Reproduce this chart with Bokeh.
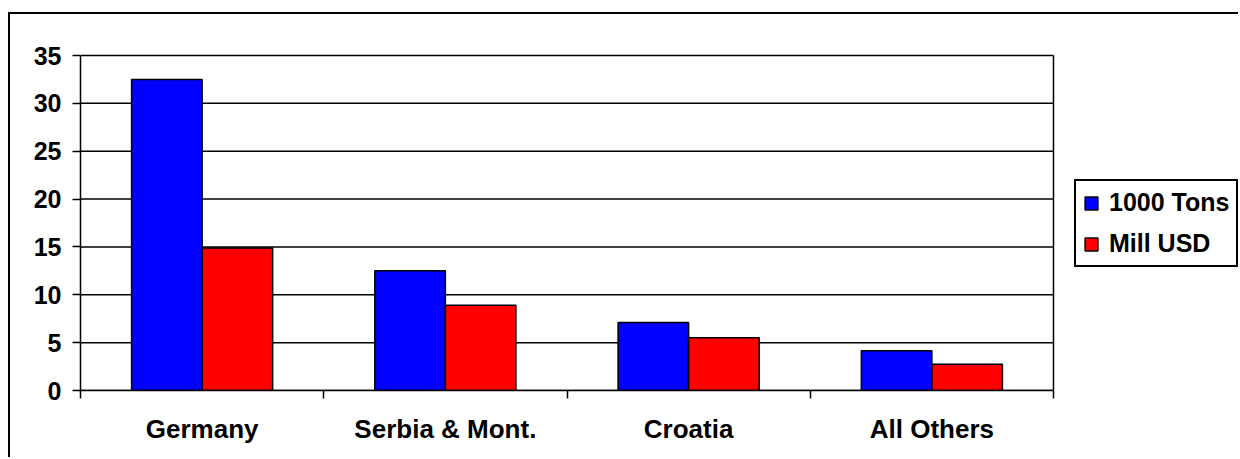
from bokeh.plotting import figure
from bokeh.models import (Range1d, FixedTicker, Legend, LegendItem, ColumnDataSource)
from bokeh.embed import file_html
from bokeh.resources import INLINE

# ---- data ----
categories = ["Germany", "Serbia & Mont.", "Croatia", "All Others"]
tons = [32.5, 12.5, 7.1, 4.15]
usd = [14.9, 8.9, 5.5, 2.75]
series_names = ["1000 Tons", "Mill USD"]
series_colors = ["#0000FF", "#FF0000"]
y_ticks = [0, 5, 10, 15, 20, 25, 30, 35]
y_max = 35

FONT = "Liberation Sans"
bar_w = 0.29
ncat = len(categories)
centers = [i + 0.5 for i in range(ncat)]

# layout (pixels): plot area 973 px wide, 335 px tall; frame extends to the right
# edge of the canvas so that the legend (placed to the right of the plot area) shows
plot_w, plot_h = 973, 335
frame_w, top_pad = 1160, 5
x_end = ncat * frame_w / plot_w
y_end = y_max * (plot_h + top_pad) / plot_h

p = figure(width=1230, height=445, output_backend="svg", toolbar_location=None,
           x_range=Range1d(0, x_end), y_range=Range1d(0, y_end),
           min_border_left=70, min_border_right=0, min_border_top=36,
           min_border_bottom=69)
p.background_fill_color = "white"
p.border_fill_color = "white"
p.outline_line_color = None
# outer chart frame: only its left and top edges are inside the window
p.styles = {"border-left": "2px solid black", "border-top": "2px solid black",
            "margin-left": "8px", "margin-top": "12px"}

# gridlines and right border of the plot area
n = len(y_ticks)
p.segment(x0=[0] * n, x1=[ncat] * n, y0=y_ticks, y1=y_ticks,
          line_color="black", line_width=1.5)
p.segment(x0=[ncat], x1=[ncat], y0=[0], y1=[y_max], line_color="black", line_width=1.5)

src1 = ColumnDataSource(dict(x=[c - bar_w / 2 for c in centers], top=tons))
src2 = ColumnDataSource(dict(x=[c + bar_w / 2 for c in centers], top=usd))
r1 = p.vbar(x="x", top="top", width=bar_w, source=src1, fill_color=series_colors[0],
            line_color="black", line_width=1.5)
r2 = p.vbar(x="x", top="top", width=bar_w, source=src2, fill_color=series_colors[1],
            line_color="black", line_width=1.5)

# x axis: labels at category centres, tick marks at category boundaries
xa = p.xaxis[0]
xa.bounds = (0, ncat)
xa.ticker = FixedTicker(ticks=centers, minor_ticks=list(range(ncat + 1)))
xa.major_label_overrides = {c: name for c, name in zip(centers, categories)}
xa.major_tick_out = 0
xa.major_tick_in = 0
xa.minor_tick_out = 8
xa.minor_tick_in = 0
xa.minor_tick_line_color = "black"
xa.minor_tick_line_width = 1.5
xa.axis_line_color = "black"
xa.axis_line_width = 1.5
xa.major_label_text_font = FONT
xa.major_label_text_font_style = "bold"
xa.major_label_text_font_size = "26px"
xa.major_label_text_color = "black"
xa.major_label_standoff = 15

ya = p.yaxis[0]
ya.bounds = (0, y_max)
ya.ticker = FixedTicker(ticks=y_ticks)
ya.major_tick_out = 8
ya.major_tick_in = 0
ya.minor_tick_out = 0
ya.minor_tick_in = 0
ya.major_tick_line_color = "black"
ya.major_tick_line_width = 1.5
ya.axis_line_color = "black"
ya.axis_line_width = 1.5
ya.major_label_text_font = FONT
ya.major_label_text_font_style = "bold"
ya.major_label_text_font_size = "25px"
ya.major_label_text_color = "black"
ya.major_label_standoff = 11

p.xgrid.grid_line_color = None
p.ygrid.grid_line_color = None

legend = Legend(items=[LegendItem(label=series_names[0], renderers=[r1]),
                       LegendItem(label=series_names[1], renderers=[r2])],
                location=(994, 123))
legend.label_text_font = FONT
legend.label_text_font_style = "bold"
legend.label_text_font_size = "25px"
legend.label_text_color = "black"
legend.glyph_width = 16
legend.glyph_height = 16
legend.label_standoff = 10
legend.padding = 7
legend.spacing = 12
legend.margin = 0
legend.border_line_color = "black"
legend.border_line_width = 2
legend.border_line_alpha = 1
legend.background_fill_color = "white"
legend.background_fill_alpha = 1
p.add_layout(legend, "center")

open("out.html", "w").write(file_html(p, INLINE))
